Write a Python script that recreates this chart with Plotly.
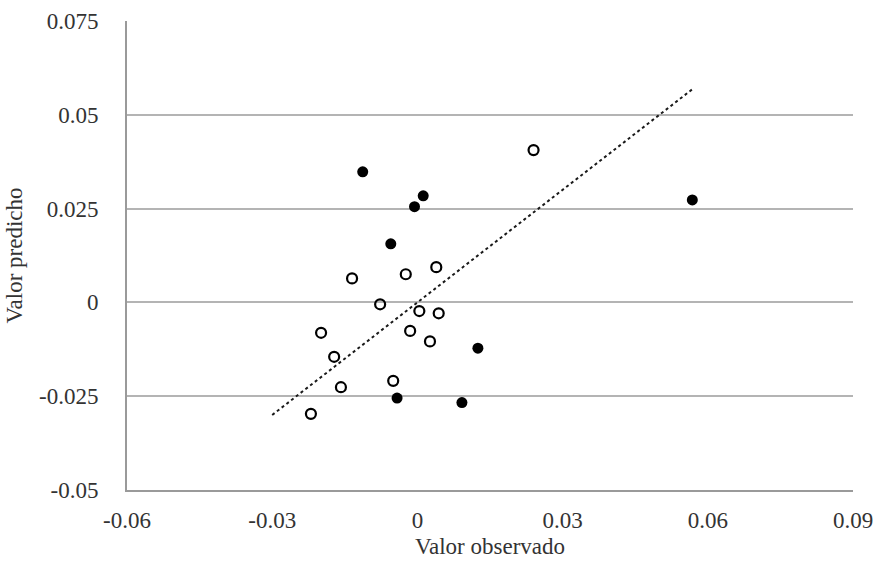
import plotly.graph_objects as go

# Observed vs. predicted values, two groups of points
filled_x = [-0.0113, 0.0012, -0.0006, -0.0055, 0.0125, -0.0042, 0.0092, 0.0568]
filled_y = [0.0348, 0.0284, 0.0255, 0.0156, -0.0122, -0.0255, -0.0267, 0.0273]

open_x = [0.0240, 0.0039, -0.0024, -0.0135, -0.0077, 0.0004, 0.0044, -0.0199,
          -0.0015, 0.0026, -0.0172, -0.0050, -0.0158, -0.0220]
open_y = [0.0406, 0.0094, 0.0075, 0.0064, -0.0005, -0.0023, -0.0029, -0.0081,
          -0.0076, -0.0104, -0.0145, -0.0209, -0.0226, -0.0297]

# Reference line (predicted = observed)
line_x = [-0.030, 0.057]
line_y = [-0.030, 0.057]

x_ticks = [-0.06, -0.03, 0, 0.03, 0.06, 0.09]
x_tick_text = ["-0.06", "-0.03", "0", "0.03", "0.06", "0.09"]
y_ticks = [-0.05, -0.025, 0, 0.025, 0.05, 0.075]
y_tick_text = ["-0.05", "-0.025", "0", "0.025", "0.05", "0.075"]

font_family = "Liberation Serif, DejaVu Serif, serif"

fig = go.Figure()
fig.add_trace(go.Scatter(
    x=line_x, y=line_y, mode="lines",
    line=dict(color="#1a1a1a", width=2, dash="dot"),
    hoverinfo="skip", showlegend=False,
))
fig.add_trace(go.Scatter(
    x=open_x, y=open_y, mode="markers",
    marker=dict(symbol="circle-open", size=10, color="black",
                line=dict(width=2.2, color="black")),
    showlegend=False,
))
fig.add_trace(go.Scatter(
    x=filled_x, y=filled_y, mode="markers",
    marker=dict(symbol="circle", size=11, color="black"),
    showlegend=False,
))

fig.update_layout(
    width=878, height=567,
    margin=dict(l=127, r=25, t=21, b=77, pad=0),
    paper_bgcolor="white", plot_bgcolor="white",
    font=dict(family=font_family, size=23, color="#333333"),
    xaxis=dict(
        range=[-0.06, 0.09], tickvals=x_ticks, ticktext=x_tick_text,
        showgrid=False, zeroline=False, automargin=False,
        showline=True, linecolor="#9a9a9a", linewidth=2,
        ticks="", ticklabelstandoff=8,
        title=dict(text="Valor observado", font=dict(size=23), standoff=6),
    ),
    yaxis=dict(
        range=[-0.05, 0.075], tickvals=y_ticks, ticktext=y_tick_text,
        showgrid=True, gridcolor="#b4b4b4", gridwidth=2,
        zeroline=False, automargin=False,
        showline=True, linecolor="#9a9a9a", linewidth=2,
        ticks="", ticklabelstandoff=22,
        title=dict(text="Valor predicho", font=dict(size=23), standoff=10),
    ),
)

fig.write_html("out.html")
